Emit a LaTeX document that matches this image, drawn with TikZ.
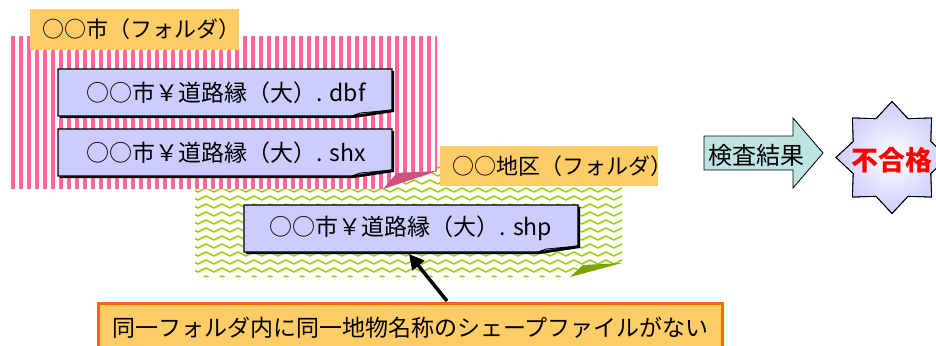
\documentclass[tikz,border=0pt]{standalone}
\usepackage{fontspec}
\setmainfont{Noto Sans CJK JP}
\usetikzlibrary{arrows.meta}
\definecolor{pk}{HTML}{FF6699}
\definecolor{pkd}{HTML}{CC5080}
\definecolor{gr}{HTML}{99CC00}
\definecolor{grd}{HTML}{7AA300}
\definecolor{lab}{HTML}{FFCC66}
\definecolor{fb}{HTML}{CCCCFF}
\definecolor{fbd}{HTML}{9999CC}
\definecolor{org}{HTML}{FF6600}
\definecolor{cy}{HTML}{BDE3E3}
\newcommand\fileshape[4]{%
 \fill[black] (#1+2,#2+2) -- (#3+2,#2+2) -- (#3+2,#4-4) -- (#3-38,#4+2) -- (#1+2,#4+2) -- cycle;
 \filldraw[fill=fb, draw=black, line width=1.4pt] (#1,#2) -- (#3,#2) -- (#3,#4-6) -- (#3-40,#4) -- (#1,#4) -- cycle;
 \filldraw[fill=fbd, draw=black, line width=0.8pt] (#3-40,#4) -- (#3,#4-6) -- (#3-32,#4-3) -- cycle;
}
\begin{document}
\begin{tikzpicture}[x=1pt,y=-1pt,
  txt/.style={inner sep=0pt, font=\fontsize{23}{26}\selectfont},
  label/.style={fill=lab, inner sep=0pt, font=\fontsize{22}{26}\selectfont},
  zig/.style={draw=gr, line width=1.4pt},
  ]
\useasboundingbox (0,0) rectangle (936,345);
\clip (0,0) rectangle (936,345);
\fill[white] (0,0) rectangle (936,345);
% green folder region
\begin{scope}
 \clip (195,160) -- (622,160) -- (622,263) -- (570,277) -- (195,277) -- cycle;
 \foreach \k in {0,...,15} {
   \draw[zig] (190,164+8*\k) \foreach \i in {0,...,27} { -- ++(8,4) -- ++(8,-4) };
 }
\end{scope}
\fill[grd] (570,277) -- (622,263) -- (583,265) -- cycle;
% pink folder region
\fill[white] (11,36) -- (437,36) -- (437,171) -- (383,189) -- (11,189) -- cycle;
\begin{scope}
 \clip (11,36) -- (437,36) -- (437,171) -- (383,189) -- (11,189) -- cycle;
 \foreach \x in {11,19,...,437} { \fill[pk] (\x,36) rectangle ++(3.6,154); }
\end{scope}
\fill[pkd] (383,189) -- (437,171) -- (397,173) -- cycle;
% folder labels
\node[label, minimum width=209pt, minimum height=41pt, text width=185pt, align=left] (f1) at (134.5,29.5) {○○市（フォルダ）};
\node[label, minimum width=218pt, minimum height=40pt, text width=194pt, align=left] (f2) at (549,166) {○○地区（フォルダ）};
% file boxes
\fileshape{58}{69}{392}{116}
\node[txt] (dbf) at (226,92.5) {○○市￥道路縁（大）. dbf};
\fileshape{58}{129}{392}{176}
\node[txt] (shx) at (226,152.5) {○○市￥道路縁（大）. shx};
\fileshape{244}{205}{578}{252}
\node[txt] (shp) at (411,228.5) {○○市￥道路縁（大）. shp};
% message box
\node[draw=org, fill=lab, line width=3pt, minimum width=624pt, minimum height=48pt, anchor=north west, inner sep=0pt, font=\fontsize{23}{26}\selectfont] (err) at (97,302) {同一フォルダ内に同一地物名称のシェープファイルがない};
\coordinate (a1) at (447,301);
\coordinate (a2) at (409,254);
\draw[line width=3.5pt, -{Triangle[length=15pt,width=15pt]}] (a1) -- (a2);
% result arrow
\draw[fill=cy, line width=0.8pt] (704,136) -- (793,136) -- (793,118) -- (823,153) -- (793,188) -- (793,170) -- (704,170) -- cycle;
\node[txt, font=\fontsize{24}{26}\selectfont] (kk) at (756,155) {検査結果};
% star
\begin{scope}[shift={(892,157.5)}]
\shade[inner color=white, outer color=fb, draw=black, line width=0.8pt]
  (0:56) -- (22.5:42) -- (45:56) -- (67.5:42) -- (90:56) -- (112.5:42) -- (135:56) -- (157.5:42)
  -- (180:56) -- (202.5:42) -- (225:56) -- (247.5:42) -- (270:56) -- (292.5:42) -- (315:56) -- (337.5:42) -- cycle;
\draw[black, line width=0.8pt]
  (0:56) -- (22.5:42) -- (45:56) -- (67.5:42) -- (90:56) -- (112.5:42) -- (135:56) -- (157.5:42)
  -- (180:56) -- (202.5:42) -- (225:56) -- (247.5:42) -- (270:56) -- (292.5:42) -- (315:56) -- (337.5:42) -- cycle;
\end{scope}
\node[txt, text=red, font=\bfseries\fontsize{27}{30}\selectfont] (res) at (892,160) {不合格};
\end{tikzpicture}
\end{document}
